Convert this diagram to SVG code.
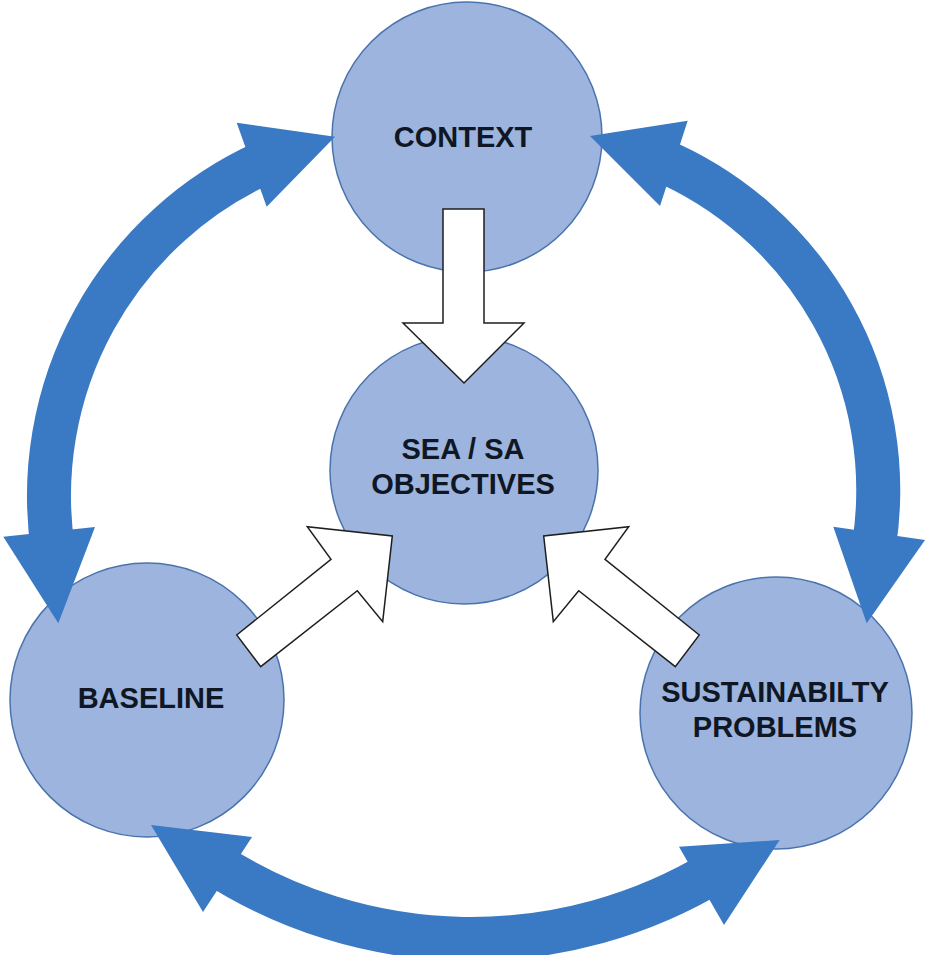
<svg xmlns="http://www.w3.org/2000/svg" width="927" height="955" viewBox="0 0 927 955">
  <style>
    .node circle { fill: #9cb4de; stroke: #4a73ad; stroke-width: 1.5; }
    .label { font-family: "Liberation Sans", Arial, sans-serif; font-weight: bold; font-size: 29px; fill: #0f1724; text-anchor: middle; }
    .cycle-shaft { fill: none; stroke: #3a79c3; stroke-width: 44; stroke-linecap: butt; }
    .cycle-head { fill: #3a79c3; }
    .feed { fill: #ffffff; stroke: #1e1e1e; stroke-width: 1.5; stroke-linejoin: miter; }
  </style>

  <!-- nodes -->
  <g id="context" class="node">
    <circle cx="467" cy="137" r="135"/>
    <text class="label" x="463" y="147">CONTEXT</text>
  </g>
  <g id="objectives" class="node">
    <circle cx="464" cy="470" r="134"/>
    <text class="label" x="463" y="459">SEA / SA</text>
    <text class="label" x="463" y="494">OBJECTIVES</text>
  </g>
  <g id="baseline" class="node">
    <circle cx="147" cy="700" r="137"/>
    <text class="label" x="151" y="708">BASELINE</text>
  </g>
  <g id="sustainability" class="node">
    <circle cx="776" cy="713" r="136"/>
    <text class="label" x="775" y="702">SUSTAINABILTY</text>
    <text class="label" x="775" y="737">PROBLEMS</text>
  </g>

  <!-- connectors -->
  <g id="connectors">
    <!-- curved two-way arrows round the outer nodes -->
    <g id="context-baseline">
      <path class="cycle-shaft" d="M 266.1 161.7 A 366 366 0 0 0 53 550.1"/>
      <polygon class="cycle-head" points="236.7,122.7 335,136.7 266.7,206.7"/>
      <polygon class="cycle-head" points="3.3,536.7 58.3,623.3 95,527"/>
    </g>
    <g id="context-sustainability">
      <path class="cycle-shaft" d="M 657.9 158.7 A 359.6 359.6 0 0 1 874.2 544"/>
      <polygon class="cycle-head" points="687.7,120.7 590,136 660,206"/>
      <polygon class="cycle-head" points="833.3,526.7 866.7,623.3 925,540"/>
    </g>
    <g id="baseline-sustainability">
      <path class="cycle-shaft" d="M 212.8 862.5 A 474 474 0 0 0 716.5 870.5"/>
      <polygon class="cycle-head" points="252,837 151,825 203,912"/>
      <polygon class="cycle-head" points="679,846.7 779.6,840 724,925"/>
    </g>

    <!-- block arrows feeding the objectives -->
    <polygon id="context-to-objectives" class="feed" points="443,209 484,209 484,323 524,323 464,383 403,323 443,323"/>
    <polygon id="baseline-to-objectives" class="feed" points="236.7,635 331,559.3 307.3,526.7 392.3,536 382.7,621.7 357.3,590.7 260.7,666.7"/>
    <polygon id="sustainability-to-objectives" class="feed" points="699.3,635 605,559.3 628.7,526.7 543.7,536 553.3,621.7 578.7,590.7 675.3,666.7"/>
  </g>
</svg>
